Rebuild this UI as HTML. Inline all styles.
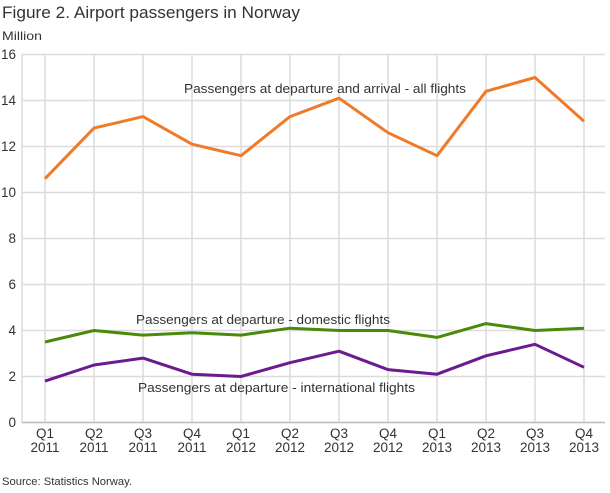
<!DOCTYPE html>
<html><head><style>
body{margin:0;background:#fff;}
svg text{font-family:"Liberation Sans","DejaVu Sans",sans-serif;fill:#333;}
</style></head><body>
<svg width="610" height="488" viewBox="0 0 610 488" xmlns="http://www.w3.org/2000/svg">
<rect width="610" height="488" fill="#fff"/>
<text x="2" y="18" font-size="17" fill="#222" textLength="298" lengthAdjust="spacingAndGlyphs">Figure 2. Airport passengers in Norway</text>
<text x="2" y="40" font-size="12" textLength="40" lengthAdjust="spacingAndGlyphs">Million</text>
<g stroke="#dcdcdc" stroke-width="1.5">
<line x1="22" x2="605" y1="54.5" y2="54.5"/><line x1="22" x2="605" y1="100.5" y2="100.5"/>
<line x1="22" x2="605" y1="146.5" y2="146.5"/><line x1="22" x2="605" y1="192.5" y2="192.5"/>
<line x1="22" x2="605" y1="238.5" y2="238.5"/><line x1="22" x2="605" y1="284.5" y2="284.5"/>
<line x1="22" x2="605" y1="330.5" y2="330.5"/><line x1="22" x2="605" y1="376.5" y2="376.5"/>
<line x1="22" x2="22" y1="54" y2="423"/>
<line x1="45" x2="45" y1="54" y2="423"/><line x1="94" x2="94" y1="54" y2="423"/>
<line x1="143" x2="143" y1="54" y2="423"/><line x1="192" x2="192" y1="54" y2="423"/>
<line x1="241" x2="241" y1="54" y2="423"/><line x1="290" x2="290" y1="54" y2="423"/>
<line x1="339" x2="339" y1="54" y2="423"/><line x1="388" x2="388" y1="54" y2="423"/>
<line x1="437" x2="437" y1="54" y2="423"/><line x1="486" x2="486" y1="54" y2="423"/>
<line x1="535" x2="535" y1="54" y2="423"/><line x1="584" x2="584" y1="54" y2="423"/>
</g>
<line x1="22" x2="605" y1="422.5" y2="422.5" stroke="#bbb" stroke-width="1.5"/>
<g font-size="13.5" text-anchor="end">
<text x="16" y="427">0</text><text x="16" y="381">2</text><text x="16" y="335">4</text>
<text x="16" y="289">6</text><text x="16" y="243">8</text><text x="16" y="197">10</text>
<text x="16" y="151">12</text><text x="16" y="105">14</text><text x="16" y="59">16</text>
</g>
<g font-size="13.5" text-anchor="middle">
<text x="45" y="438">Q1</text><text x="45" y="452">2011</text>
<text x="94" y="438">Q2</text><text x="94" y="452">2011</text>
<text x="143" y="438">Q3</text><text x="143" y="452">2011</text>
<text x="192" y="438">Q4</text><text x="192" y="452">2011</text>
<text x="241" y="438">Q1</text><text x="241" y="452">2012</text>
<text x="290" y="438">Q2</text><text x="290" y="452">2012</text>
<text x="339" y="438">Q3</text><text x="339" y="452">2012</text>
<text x="388" y="438">Q4</text><text x="388" y="452">2012</text>
<text x="437" y="438">Q1</text><text x="437" y="452">2013</text>
<text x="486" y="438">Q2</text><text x="486" y="452">2013</text>
<text x="535" y="438">Q3</text><text x="535" y="452">2013</text>
<text x="584" y="438">Q4</text><text x="584" y="452">2013</text>
</g>
<g fill="none" stroke-width="3" stroke-linejoin="round">
<polyline stroke="#ee7b2a" points="45,178.7 94,128.1 143,116.6 192,144.2 241,155.7 290,116.6 339,98.2 388,132.7 437,155.7 486,91.3 535,77.5 584,121.2"/>
<polyline stroke="#4a8a0a" points="45,342 94,330.5 143,335.1 192,332.8 241,335.1 290,328.2 339,330.5 388,330.5 437,337.4 486,323.6 535,330.5 584,328.2"/>
<polyline stroke="#6c1a8f" points="45,381.1 94,365 143,358.1 192,374.2 241,376.5 290,362.7 339,351.2 388,369.6 437,374.2 486,355.8 535,344.3 584,367.3"/>
</g>
<g font-size="12.5">
<text x="184" y="93" textLength="282" lengthAdjust="spacingAndGlyphs">Passengers at departure and arrival - all flights</text>
<text x="136" y="324" textLength="254" lengthAdjust="spacingAndGlyphs">Passengers at departure - domestic flights</text>
<text x="138" y="392" textLength="277" lengthAdjust="spacingAndGlyphs">Passengers at departure - international flights</text>
</g>
<text x="2" y="485" font-size="11" textLength="130" lengthAdjust="spacingAndGlyphs">Source: Statistics Norway.</text>
</svg>
</body></html>
